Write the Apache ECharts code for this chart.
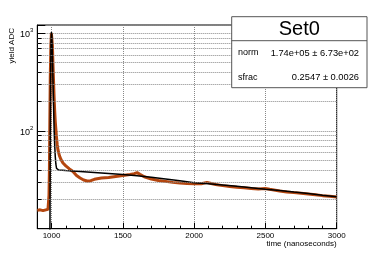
<!DOCTYPE html>
<html><head><meta charset="utf-8">
<script src="https://cdn.jsdelivr.net/npm/echarts@6/dist/echarts.min.js"></script>
<style>html,body{margin:0;padding:0;background:#fff}#c{width:374px;height:255px}</style>
</head><body><div id="c"></div>
<script>
// Data histogram (orange): time (ns) and yield
const dataT = [900,920,940,960,975,979,982,985,988,991,995,999,1002,1006,1010,1014,1018,1022,1026,1030,1035,1040,1045,1055,1066,1080,1100,1125,1150,1175,1200,1225,1250,1275,1300,1350,1400,1450,1500,1550,1580,1600,1620,1650,1700,1750,1800,1850,1900,1950,2000,2050,2090,2100,2120,2150,2200,2250,2300,2350,2400,2450,2500,2530,2600,2650,2700,2750,2800,2850,2900,2950,3000];
const dataV = [15.4,15.6,15.3,15.6,15.8,19,22,40,130,350,750,1000,1020,750,480,320,220,160,125,105,85,72,64,56,51,47,44,41,38.5,35,33,31.5,30.8,31,32,33,33.5,34.3,35,35.9,36.6,37.5,36,34,32.3,31.2,30.5,29.8,29.3,29,28.8,28.8,29.8,30.3,29,28.3,27.6,27,26.5,26.2,25.8,25.5,25.8,25.3,24.3,23.8,23.4,23,22.6,22.2,21.8,21.5,21.1];
// Fit curve (black)
const fitT = [985,989,991,993,996,999,1002,1006,1010,1014,1018,1022,1026,1030,1035,1040,1050,1100,1200,1300,1400,1500,1600,1700,1800,1900,2000,2100,2200,2300,2400,2500,2600,2700,2800,2900,3000];
const fitV = [5,12,80,300,800,1030,950,600,330,180,105,72,55,46,41.5,40.3,39.9,39.4,38.5,37.6,36.7,35.8,34.8,33.6,32.3,31.0,29.6,28.8,28.0,27.2,26.3,25.4,24.6,23.7,22.9,22.0,21.2];
// Minor grid levels on the log axis
const minorGrid = [20,30,40,50,60,70,80,90,200,300,400,500,600,700,800,900];
const xTickLabels = ['1000','1500','2000','2500','3000'];
const legendTitle = 'Set0';
const legendRows = [['norm','1.74e+05 \u00b1 6.73e+02'],['sfrac','0.2547 \u00b1 0.0026']];

const zip = (a,b)=>a.map((t,i)=>[t,b[i]]);
const chart = echarts.init(document.getElementById('c'), null, {renderer:'canvas'});
const F = 'Liberation Sans, Arial, sans-serif';
const gridCol = '#888';
chart.setOption({
  animation:false,
  backgroundColor:'#fff',
  grid:{left:37.3, top:25, right:37.3, bottom:26.3, show:true, borderColor:'#000', borderWidth:1},
  xAxis:{
    type:'value', min:900, max:3000, splitNumber:5,
    axisLine:{show:true, lineStyle:{color:'#000', width:1}},
    axisTick:{show:true, inside:true, length:6, lineStyle:{color:'#000'}},
    minorTick:{show:true, splitNumber:5, length:3, lineStyle:{color:'#000'}},
    splitLine:{show:true, lineStyle:{color:gridCol, type:'dotted', width:1}},
    axisLabel:{fontFamily:F, fontSize:8, color:'#000', margin:3,
      formatter:v=>{const s=String(Math.round(v)); return xTickLabels.indexOf(s)>=0?s:'';}}
  },
  yAxis:{
    type:'log', logBase:10, min:10, max:1216,
    axisLine:{show:true, lineStyle:{color:'#000', width:1}},
    axisTick:{show:true, inside:true, length:8, lineStyle:{color:'#000'}},
    splitLine:{show:true, lineStyle:{color:gridCol, type:'dotted', width:1}},
    axisLabel:{fontFamily:F, color:'#000', margin:4,
      formatter:v=>{const e=Math.log10(v); if(Math.abs(e-Math.round(e))>1e-6) return ''; const r=Math.round(e); return (r===2||r===3)?'{b|10}{s|'+r+'}':'';},
      rich:{b:{fontFamily:F, fontSize:9, color:'#000', lineHeight:12, verticalAlign:'bottom'}, s:{fontFamily:F, fontSize:6, color:'#000', verticalAlign:'top', lineHeight:12}}}
  },
  series:[
    {type:'line', data:zip(dataT,dataV), showSymbol:false, symbol:'none', clip:true,
     lineStyle:{color:'#b4460f', width:3}, z:2,
     markLine:{silent:true, symbol:'none', label:{show:false}, animation:false,
       lineStyle:{color:gridCol, type:'dotted', width:1},
       data:minorGrid.map(v=>({yAxis:v}))}},
    {type:'line', data:zip(fitT,fitV), showSymbol:false, symbol:'none', clip:true,
     lineStyle:{color:'#000', width:1.5}, z:3,
     markLine:{silent:true, symbol:'none', label:{show:false}, animation:false,
       lineStyle:{color:'#000', type:'solid', width:1},
       data:minorGrid.map(v=>[{coord:[900,v]},{coord:[930,v]}])}}
  ],
  graphic:[
    {type:'text', x:12, y:28, rotation:Math.PI/2,
     style:{text:'yield ADC', fontFamily:F, fontSize:8, fill:'#000', align:'right', verticalAlign:'middle'}},
    {type:'text', x:336.7, y:244,
     style:{text:'time (nanoseconds)', fontFamily:F, fontSize:8, fill:'#000', align:'right', verticalAlign:'middle'}},
    {type:'rect', shape:{x:231.7, y:16.7, width:135.3, height:71}, style:{fill:'#fff', stroke:'#555', lineWidth:1}, z:10},
    {type:'line', shape:{x1:231.7, y1:40.7, x2:367, y2:40.7}, style:{stroke:'#555', lineWidth:1}, z:11},
    {type:'text', x:299.3, y:29, z:11, style:{text:legendTitle, fontFamily:F, fontSize:20, fill:'#000', align:'center', verticalAlign:'middle'}},
    {type:'text', x:238, y:53, z:11, style:{text:legendRows[0][0], fontFamily:F, fontSize:9, fill:'#000', align:'left', verticalAlign:'middle'}},
    {type:'text', x:359, y:53, z:11, style:{text:legendRows[0][1], fontFamily:F, fontSize:9.3, fill:'#000', align:'right', verticalAlign:'middle'}},
    {type:'text', x:238, y:77.7, z:11, style:{text:legendRows[1][0], fontFamily:F, fontSize:9, fill:'#000', align:'left', verticalAlign:'middle'}},
    {type:'text', x:359, y:77.7, z:11, style:{text:legendRows[1][1], fontFamily:F, fontSize:9.3, fill:'#000', align:'right', verticalAlign:'middle'}}
  ]
});
</script></body></html>
